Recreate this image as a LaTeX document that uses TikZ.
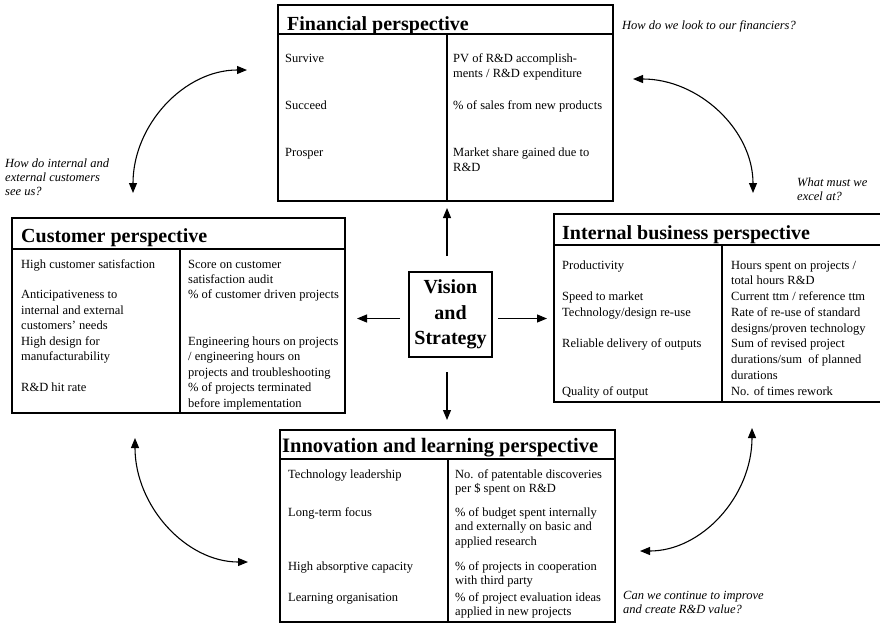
\documentclass[tikz,border=0pt]{standalone}
\usepackage{fontspec}
\setmainfont{Liberation Serif}
\usetikzlibrary{arrows.meta}
\newcommand{\colx}[1]{\begin{tabular}[t]{@{}l@{}}#1\end{tabular}}
\tikzset{
  panel/.style={draw, line width=1.2pt, inner sep=0pt, outer sep=0pt},
  rulel/.style={line width=1.2pt},
  ttl/.style={anchor=base west, inner sep=0pt, font=\fontsize{20}{24}\selectfont\bfseries},
  cellA/.style={anchor=base west, inner sep=0pt, font=\fontsize{12.5}{15.7}\selectfont},
  cellB/.style={anchor=base west, inner sep=0pt, font=\fontsize{12.5}{15.45}\selectfont},
  cellC/.style={anchor=base west, inner sep=0pt, font=\fontsize{12.5}{15.75}\selectfont},
  cellD/.style={anchor=base west, inner sep=0pt, font=\fontsize{12.5}{14.5}\selectfont},
  qtext/.style={anchor=base west, inner sep=0pt, font=\fontsize{12.5}{14}\selectfont\itshape},
  link/.style={line width=1.1pt, -{Triangle[length=10pt,width=8pt]}},
  swing/.style={line width=1.1pt, {Triangle[length=10pt,width=8pt]}-{Triangle[length=10pt,width=8pt]}}
}
\begin{document}
\begin{tikzpicture}[x=1pt,y=-1pt]
\useasboundingbox (0,0) rectangle (880,624);
\clip (0,0) rectangle (880,624);

% ---------- Financial perspective ----------
\node[panel, minimum width=335pt, minimum height=196pt] (fin) at (445.5,103) {};
\draw[rulel] (278,34) -- (613,34);
\draw[rulel] (447,34) -- (447,201);
\node[ttl] (fint) at (287,30) {Financial perspective};
\node[cellA] (finl) at (285,62) {\colx{Survive\\ \\ \\ Succeed\\ \\ \\ Prosper}};
\node[cellA] (finr) at (453,62) {\colx{PV of R\&D accomplish-\\ments / R\&D expenditure\\ \\ \% of sales from new products\\ \\ \\ Market share gained due to\\R\&D}};

% ---------- Customer perspective ----------
\node[panel, minimum width=333pt, minimum height=195pt] (cus) at (178.5,315.5) {};
\draw[rulel] (12,249) -- (345,249);
\draw[rulel] (180,249) -- (180,413);
\node[ttl] (cust) at (21,242) {Customer perspective};
\node[cellB] (cusl) at (21,268) {\colx{High customer satisfaction\\ \\ Anticipativeness to\\internal and external\\customers' needs\\High design for\\manufacturability\\ \\ R\&D hit rate}};
\node[cellB] (cusr) at (188,268) {\colx{Score on customer\\satisfaction audit\\ \% of customer driven projects\\ \\ \\ Engineering hours on projects\\/ engineering hours on\\projects and troubleshooting\\ \% of projects terminated\\before implementation}};

% ---------- Internal business perspective ----------
\node[panel, minimum width=332pt, minimum height=188pt] (int) at (720,308) {};
\draw[rulel] (554,245) -- (886,245);
\draw[rulel] (722,245) -- (722,402);
\node[ttl] (intt) at (562,239) {Internal business perspective};
\node[cellC] (intl) at (562,269) {\colx{Productivity\\ \\ Speed to market\\Technology/design re-use\\ \\ Reliable delivery of outputs\\ \\ \\ Quality of output}};
\node[cellC] (intr) at (731,269) {\colx{Hours spent on projects /\\total hours R\&D\\Current ttm / reference ttm\\Rate of re-use of standard\\designs/proven technology\\Sum of revised project\\durations/sum~ of planned\\durations\\No. of times rework}};

% ---------- Innovation and learning perspective ----------
\node[panel, minimum width=335pt, minimum height=192pt] (inn) at (447.5,526) {};
\draw[rulel] (280,459) -- (615,459);
\draw[rulel] (448,459) -- (448,622);
\node[ttl, font=\fontsize{20.5}{24}\selectfont\bfseries] (innt) at (282,452) {Innovation and learning perspective};
\node[cellD] (inl1) at (288,478) {\colx{Technology leadership}};
\node[cellD] (inl2) at (288,516) {\colx{Long-term focus}};
\node[cellD] (inl3) at (288,570) {\colx{High absorptive capacity}};
\node[cellD] (inl4) at (288,601) {\colx{Learning organisation}};
\node[cellD] (inr1) at (455,478) {\colx{No. of patentable discoveries\\per \$ spent on R\&D}};
\node[cellD] (inr2) at (455,516) {\colx{\% of budget spent internally\\and externally on basic and\\applied research}};
\node[cellD] (inr3) at (455,570) {\colx{\% of projects in cooperation\\with third party}};
\node[cellD] (inr4) at (455,601) {\colx{\% of project evaluation ideas\\applied in new projects}};

% ---------- Vision and Strategy ----------
\node[panel, minimum width=83pt, minimum height=85pt, align=center,
      font=\fontsize{20}{25.5}\selectfont\bfseries] (vis) at (450.5,314.5) {Vision\\and\\Strategy};

\draw[link, shorten <=16pt, shorten >=7pt] ([xshift=-3.5pt]vis.north) -- ([xshift=-3.5pt]vis.north |- fin.south);
\draw[link, shorten <=15pt, shorten >=10pt] ([xshift=-3.5pt]vis.south) -- ([xshift=-3.5pt]vis.south |- inn.north);
\draw[link, shorten <=9pt, shorten >=12pt] ([yshift=-4pt]vis.west) -- ([yshift=-4pt]vis.west -| cus.east);
\draw[link, shorten <=6pt, shorten >=7pt] ([yshift=-4pt]vis.east) -- ([yshift=-4pt]vis.east -| int.west);

% ---------- Curved arrows ----------
\coordinate (tlA) at (133,193); \coordinate (tlB) at (247,70);
\coordinate (trA) at (633,79);  \coordinate (trB) at (753,193);
\coordinate (brA) at (752,428); \coordinate (brB) at (640,551);
\coordinate (blA) at (135,438); \coordinate (blB) at (248,562);
\draw[swing] (tlA) .. controls (133,125) and (184,70) .. (tlB);
\draw[swing] (trA) .. controls (699,79) and (753,130) .. (trB);
\draw[swing] (brA) .. controls (752,496) and (702,551) .. (brB);
\draw[swing] (blA) .. controls (135,506) and (186,562) .. (blB);

% ---------- Questions ----------
\node[qtext] (q1) at (622,29) {\colx{How do we look to our financiers?}};
\node[qtext] (q2) at (797,186) {\colx{What must we\\excel at?}};
\node[qtext] (q3) at (5,167) {\colx{How do internal and\\external customers\\see us?}};
\node[qtext] (q4) at (623,599) {\colx{Can we continue to improve\\and create R\&D value?}};
\end{tikzpicture}
\end{document}
